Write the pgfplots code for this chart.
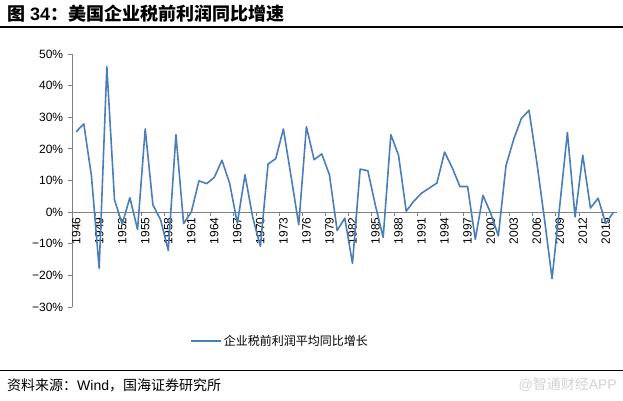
\documentclass[border=0pt]{standalone}
\usepackage{fontspec}
\setmainfont{Liberation Sans}
\newfontfamily\cjk{Noto Sans CJK SC}
\usepackage{pgfplots}
\pgfplotsset{compat=1.18}
\definecolor{lineblue}{RGB}{74,126,187}
\pgfplotstableread{
year val
1946 25.4
1947 27.9
1948 11.3
1949 -17.8
1950 46.0
1951 3.9
1952 -3.8
1953 4.6
1954 -5.5
1955 26.3
1956 2.3
1957 -2.4
1958 -12.1
1959 24.5
1960 -3.6
1961 0.0
1962 9.9
1963 9.0
1964 11.0
1965 16.4
1966 9.1
1967 -3.5
1968 11.8
1969 -1.6
1970 -10.8
1971 15.2
1972 16.9
1973 26.3
1974 11.3
1975 -4.0
1976 27.0
1977 16.6
1978 18.4
1979 11.8
1980 -5.8
1981 -1.9
1982 -16.2
1983 13.6
1984 13.1
1985 2.0
1986 -8.0
1987 24.5
1988 18.0
1989 0.3
1990 3.5
1991 6.0
1992 7.6
1993 9.2
1994 19.0
1995 14.0
1996 8.1
1997 8.1
1998 -8.6
1999 5.3
2000 -0.3
2001 -7.5
2002 14.7
2003 23.0
2004 29.6
2005 32.2
2006 16.0
2007 -2.0
2008 -21.0
2009 2.0
2010 25.2
2011 -1.5
2012 18.0
2013 1.3
2014 4.4
2015 -3.6
2016 0.0
}\profit
\begin{document}
\begin{tikzpicture}[x=1pt,y=1pt]
\path[use as bounding box] (0,0) rectangle (623,-400);
\node[anchor=base west, inner sep=0, font=\fontsize{18}{18}\selectfont\bfseries] at (7,-20) {{\cjk 图} 34{\cjk ：美国企业税前利润同比增速}};
\draw[line width=1.2pt] (0,-27) -- (623,-27);
\draw[line width=1pt] (0,-370) -- (623,-370);
\node[anchor=base west, inner sep=0, font=\fontsize{14}{14}\selectfont] at (7,-390) {{\cjk 资料来源：}Wind{\cjk ，国海证券研究所}};
\node[anchor=base east, inner sep=0, text=gray!35, font=\fontsize{14}{14}\selectfont] at (617,-389) {@{\cjk 智通财经}APP};
\begin{axis}[
  at={(72.3pt,-307pt)}, anchor=south west,
  scale only axis, width=545pt, height=253pt,
  xmin=1945.5, xmax=2016.5, ymin=-30, ymax=50,
  axis x line=middle, axis y line=left,
  axis line style={draw=gray, -, line width=0.8pt},
  hide obscured x ticks=false, hide obscured y ticks=false,
  tick align=outside,
  xtick={1946,1949,...,2015},
  major x tick style={draw=none},
  minor xtick={1945.5,1948.5,...,2016},
  minor tick length=4pt, major tick length=4pt,
  tick style={draw=gray, line width=0.8pt},
  /pgf/number format/assume math mode=true,
  /pgf/number format/1000 sep={},
  xticklabel style={rotate=90, anchor=east, font=\fontsize{12}{12}\selectfont, inner sep=1pt},
  ytick={-30,-20,...,50},
  yticklabels={−30\%,−20\%,−10\%,0\%,10\%,20\%,30\%,40\%,50\%},
  yticklabel style={font=\fontsize{12}{12}\selectfont, inner sep=2pt, xshift=-3pt},
  legend style={at={(axis description cs:0.216,-0.134)}, anchor=west, draw=none, fill=none, inner sep=0pt, font=\cjk\fontsize{12}{12}\selectfont},
  legend image code/.code={\draw[#1] (0pt,0pt) -- (30pt,0pt);},
]
\addplot[lineblue, line width=1.6pt, line join=round, mark=none] table[x=year, y=val] {\profit};
\addlegendentry{企业税前利润平均同比增长}
\end{axis}
\end{tikzpicture}
\end{document}
